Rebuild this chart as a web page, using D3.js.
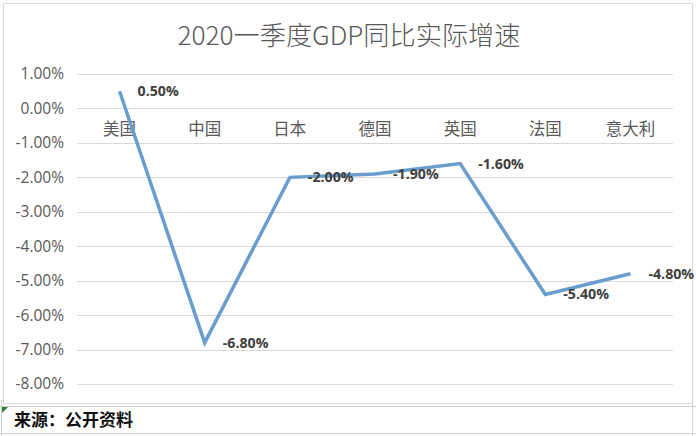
<!DOCTYPE html>
<html><head><meta charset="utf-8">
<script src="https://cdn.jsdelivr.net/npm/d3@7"></script>
<style>
html,body{margin:0;padding:0;background:#fff;}
svg{display:block;}
</style>
</head><body>
<svg id="c" width="696" height="436"></svg>
<script>
const categories = ["美国","中国","日本","德国","英国","法国","意大利"];
const values = [0.5, -6.8, -2.0, -1.9, -1.6, -5.4, -4.8];
const yTicks = [1, 0, -1, -2, -3, -4, -5, -6, -7, -8];
const title = "2020一季度GDP同比实际增速";
const source = "来源：公开资料";

const svg = d3.select("#c");
const cjk = "'Noto Sans CJK SC','Noto Sans',sans-serif";

// frame
svg.append("rect").attr("x",3.5).attr("y",3.5).attr("width",689).attr("height",400)
  .attr("fill","#fff").attr("stroke","#d9d9d9");
svg.append("line").attr("x1",0).attr("x2",696).attr("y1",406.5).attr("y2",406.5).attr("stroke","#d0d0d0");
svg.append("line").attr("x1",0).attr("x2",696).attr("y1",433.5).attr("y2",433.5).attr("stroke","#d0d0d0");
svg.append("line").attr("x1",1.5).attr("x2",1.5).attr("y1",400).attr("y2",436).attr("stroke","#d0d0d0");
svg.append("line").attr("x1",692.5).attr("x2",692.5).attr("y1",400).attr("y2",436).attr("stroke","#d0d0d0");
svg.append("path").attr("d","M2,407 L8,407 L2,413 Z").attr("fill","#2e7d32");

const x = d3.scaleBand().domain(categories).range([77,673]);
const y = d3.scaleLinear().domain([-8,1]).range([384,74]);

// grid
svg.append("g").selectAll("line").data(yTicks).join("line")
  .attr("x1",77).attr("x2",673)
  .attr("y1",d=>Math.round(y(d))+0.5).attr("y2",d=>Math.round(y(d))+0.5)
  .attr("stroke","#d9d9d9").attr("stroke-width",1);

// y tick labels
svg.append("g").selectAll("text").data(yTicks).join("text")
  .attr("x",64).attr("y",d=>y(d)).attr("dy","0.35em")
  .attr("text-anchor","end").attr("font-family","'Open Sans','Noto Sans',sans-serif")
  .attr("font-size",15.5).attr("fill","#595959")
  .text(d=>d.toFixed(2)+"%");

// category labels
svg.append("g").selectAll("text").data(categories).join("text")
  .attr("x",d=>x(d)+x.bandwidth()/2).attr("y",y(-0.6)).attr("dy","0.35em")
  .attr("text-anchor","middle").attr("font-family",cjk)
  .attr("font-size",16.5).attr("fill","#595959")
  .text(d=>d);

// line
const line = d3.line().x((d,i)=>x(categories[i])+x.bandwidth()/2).y(d=>y(d));
svg.append("path").datum(values).attr("d",line)
  .attr("fill","none").attr("stroke","#6a9dcd").attr("stroke-width",3.5)
  .attr("stroke-linejoin","miter");

// data labels
svg.append("g").selectAll("text").data(values).join("text")
  .attr("x",(d,i)=>x(categories[i])+x.bandwidth()/2+18).attr("y",d=>y(d)).attr("dy","0.35em")
  .attr("font-family","'Open Sans','Noto Sans',sans-serif").attr("font-weight","bold")
  .attr("font-size",14.2).attr("fill","#404040")
  .text(d=>d.toFixed(2)+"%");

// title
svg.append("text").attr("x",349).attr("y",36).attr("dy","0.35em")
  .attr("text-anchor","middle").attr("font-family",cjk).attr("font-weight",300)
  .attr("font-size",26.2).attr("fill","#595959").text(title);

// source
svg.append("text").attr("x",14).attr("y",420).attr("dy","0.35em")
  .attr("font-family",cjk).attr("font-weight","bold")
  .attr("font-size",17).attr("fill","#111").text(source);
</script>
</body></html>
